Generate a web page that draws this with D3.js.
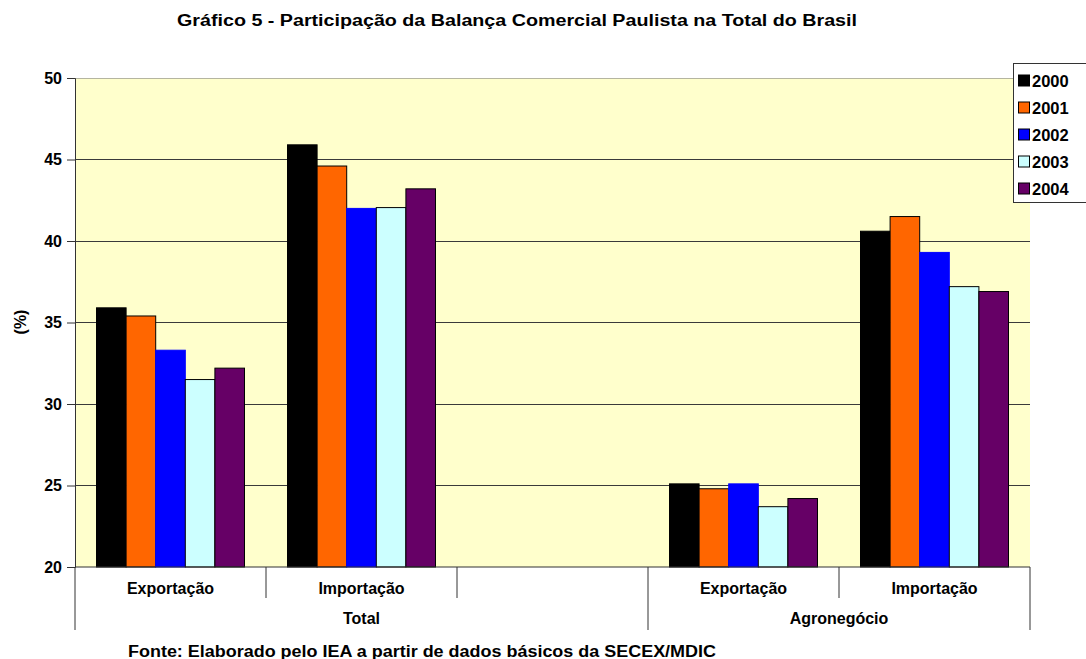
<!DOCTYPE html>
<html>
<head>
<meta charset="utf-8">
<script src="https://cdn.jsdelivr.net/npm/d3@7"></script>
<style>
  html, body { margin: 0; padding: 0; background: #fff; }
  svg text { font-family: "Liberation Sans", Arial, sans-serif; font-weight: bold; fill: #000; }
</style>
</head>
<body>
<svg id="chart" width="1086" height="659"></svg>
<script>
// Category slots along the x axis (the third Total slot is left empty)
const slots = ["tot-exp", "tot-imp", "tot-empty", "agr-exp", "agr-imp"];
const slotLabels = ["Exportação", "Importação", "", "Exportação", "Importação"];
const groups = [
  { name: "Total", from: 0, to: 2 },
  { name: "Agronegócio", from: 3, to: 4 }
];
const years = ["2000", "2001", "2002", "2003", "2004"];
const colors = ["#000000", "#FF6600", "#0000FF", "#CCFFFF", "#660066"];

// Share of São Paulo in Brazil's total (%), one array per year, in slot order
const v2000 = [35.9, 45.9, null, 25.1, 40.6];
const v2001 = [35.4, 44.6, null, 24.8, 41.5];
const v2002 = [33.3, 42.0, null, 25.1, 39.3];
const v2003 = [31.5, 42.05, null, 23.7, 37.2];
const v2004 = [32.2, 43.2, null, 24.2, 36.9];
const seriesValues = [v2000, v2001, v2002, v2003, v2004];

const yTicks = [20, 25, 30, 35, 40, 45, 50];

const svg = d3.select("#chart");
const plotLeft = 75, plotRight = 1030, plotTop = 78, plotBottom = 567;

const x = d3.scaleBand().domain(slots).range([plotLeft, plotRight]).paddingInner(0).paddingOuter(0);
const xi = d3.scaleBand().domain(years)
  .range([21.5, x.bandwidth() - 21.5]).padding(0);
const y = d3.scaleLinear().domain([20, 50]).range([plotBottom, plotTop]);

// Title
svg.append("text").attr("x", 177).attr("y", 26)
  .style("font-size", "16px")
  .attr("textLength", 680).attr("lengthAdjust", "spacingAndGlyphs")
  .text("Gráfico 5 - Participação da Balança Comercial Paulista na Total do Brasil");

// Plot background
svg.append("rect").attr("x", plotLeft).attr("y", plotTop)
  .attr("width", plotRight - plotLeft).attr("height", plotBottom - plotTop)
  .attr("fill", "#FFFFCC");

// Gridlines
svg.append("g").selectAll("line").data(yTicks.slice(1)).join("line")
  .attr("x1", plotLeft).attr("x2", plotRight)
  .attr("y1", d => y(d)).attr("y2", d => y(d))
  .attr("stroke", d => d === 50 ? "#b5b5a0" : "#3a3a3a").attr("stroke-width", 1)
  .attr("shape-rendering", "crispEdges");

// Bars
const barData = [];
seriesValues.forEach((vals, si) => {
  vals.forEach((v, ci) => {
    if (v != null) barData.push({ slot: slots[ci], year: years[si], color: colors[si], value: v });
  });
});
svg.append("g").selectAll("rect").data(barData).join("rect")
  .attr("x", d => x(d.slot) + xi(d.year))
  .attr("y", d => y(d.value))
  .attr("width", xi.bandwidth())
  .attr("height", d => y(20) - y(d.value))
  .attr("fill", d => d.color)
  .attr("stroke", d => d.year === "2002" ? "#0000FF" : "#000")
  .attr("stroke-width", 1);

// Y axis
const yAxis = d3.axisLeft(y).tickValues(yTicks).tickSize(8).tickPadding(5);
const gy = svg.append("g").attr("transform", `translate(${plotLeft},0)`).call(yAxis);
gy.select(".domain").attr("stroke", "#333");
gy.selectAll(".tick line").attr("stroke", "#333");
gy.selectAll(".tick text").style("font-size", "16px").attr("fill", "#000");

// X axis baseline
svg.append("line").attr("x1", plotLeft).attr("x2", plotRight).attr("y1", plotBottom).attr("y2", plotBottom)
  .attr("stroke", "#333").attr("stroke-width", 1.2);

// Slot separators and labels
const slotBounds = slots.map(s => x(s)).concat([plotRight]);
svg.append("g").selectAll("line").data([1, 2, 4]).join("line")
  .attr("x1", i => slotBounds[i]).attr("x2", i => slotBounds[i])
  .attr("y1", plotBottom).attr("y2", 598)
  .attr("stroke", "#333");
svg.append("g").selectAll("text").data(slots).join("text")
  .attr("x", s => x(s) + x.bandwidth() / 2).attr("y", 594)
  .attr("text-anchor", "middle").style("font-size", "16px")
  .text((s, i) => slotLabels[i]);

// Group separators and labels
const groupEdges = [slotBounds[0], slotBounds[3], slotBounds[5]];
svg.append("g").selectAll("line").data(groupEdges).join("line")
  .attr("x1", d => d).attr("x2", d => d)
  .attr("y1", plotBottom).attr("y2", 630)
  .attr("stroke", "#333");
svg.append("g").selectAll("text").data(groups).join("text")
  .attr("x", g => (slotBounds[g.from] + slotBounds[g.to + 1]) / 2).attr("y", 624)
  .attr("text-anchor", "middle").style("font-size", "16px")
  .text(g => g.name);

// Y axis title
svg.append("text").attr("transform", "translate(26,322) rotate(-90)")
  .attr("text-anchor", "middle").style("font-size", "16px").text("(%)");

// Legend
const lg = svg.append("g");
lg.append("rect").attr("x", 1013.5).attr("y", 63.5).attr("width", 80).attr("height", 139)
  .attr("fill", "#fff").attr("stroke", "#333");
const li = lg.selectAll("g").data(years).join("g")
  .attr("transform", (d, i) => `translate(1018,${80.5 + i * 27})`);
li.append("rect").attr("x", 0.5).attr("y", -5.5).attr("width", 11).attr("height", 11)
  .attr("fill", (d, i) => colors[i]).attr("stroke", "#000");
li.append("text").attr("x", 14).attr("y", 6).style("font-size", "16.5px").text(d => d);

// Source note
svg.append("text").attr("x", 128).attr("y", 657).style("font-size", "16px")
  .attr("textLength", 588).attr("lengthAdjust", "spacingAndGlyphs")
  .text("Fonte: Elaborado pelo IEA a partir de dados básicos da SECEX/MDIC");
</script>
</body>
</html>
